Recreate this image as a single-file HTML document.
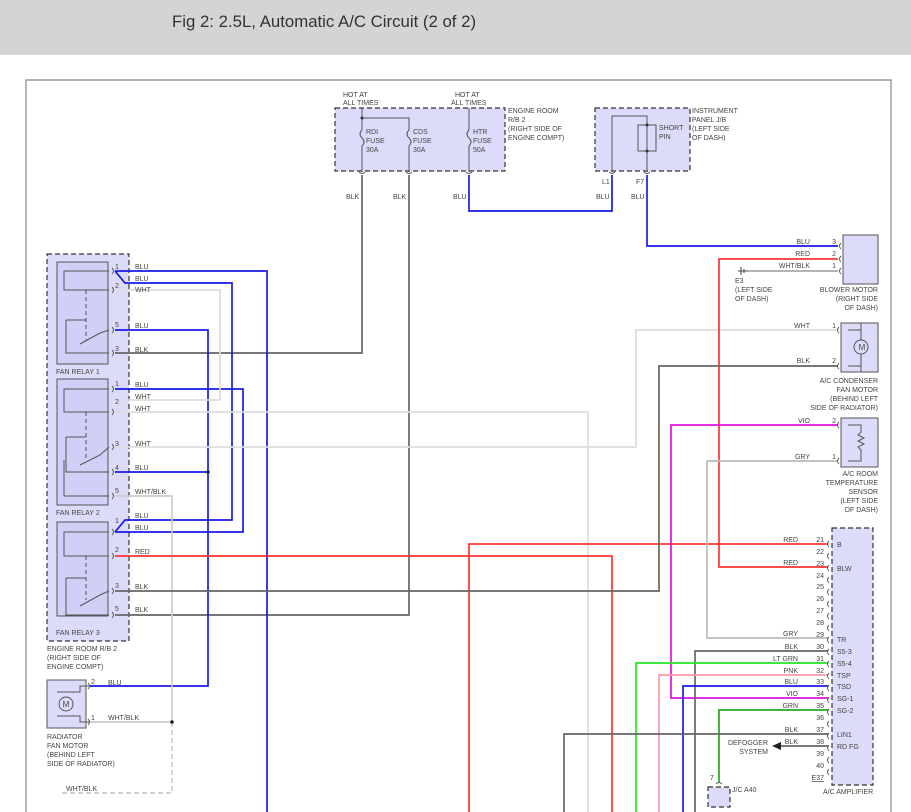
<!DOCTYPE html>
<html><head><meta charset="utf-8"><style>
html,body{margin:0;padding:0;background:#fff;width:911px;height:812px;overflow:hidden}
svg{display:block}
text{font-family:"Liberation Sans",sans-serif;font-size:7px;fill:#444}
</style></head><body>
<svg width="911" height="812" viewBox="0 0 911 812" xmlns="http://www.w3.org/2000/svg">
<rect x="0" y="0" width="911" height="55" fill="#d4d4d4"/>
<text x="172" y="27" style="font-size:16.8px;fill:#333">Fig 2: 2.5L, Automatic A/C Circuit (2 of 2)</text>
<path d="M26 812V80H891V812" fill="none" stroke="#888" stroke-width="1.2"/>

<!-- boxes -->
<g stroke="#333" stroke-dasharray="5,3" stroke-width="1.2" fill="#dcdcfa">
<rect x="335" y="108" width="170" height="63"/>
<rect x="595" y="108" width="95" height="63"/>
<rect x="47" y="254" width="82" height="387"/>
<rect x="832" y="528" width="41" height="257"/>
<rect x="708" y="787" width="22" height="20"/>
</g>
<g stroke="#555" stroke-width="1" fill="#d0d0f6">
<rect x="57" y="262" width="51" height="102"/>
<rect x="57" y="379" width="51" height="126"/>
<rect x="57" y="522" width="51" height="94"/>
<rect x="843" y="235" width="35" height="49" fill="#dcdcfa"/>
<rect x="841" y="323" width="37" height="49" fill="#dcdcfa"/>
<rect x="841" y="418" width="37" height="49" fill="#dcdcfa"/>
<rect x="47" y="680" width="39" height="48" fill="#dcdcfa"/>
</g>

<!-- top box internals -->
<g stroke="#555" fill="none" stroke-width="1">
<path d="M362 108V130M362 118H409V130M469 108V130"/>
<path d="M362 130q-4 4 0 8q4 4 0 8V172M409 130q-4 4 0 8q4 4 0 8V172M469 130q-4 4 0 8q4 4 0 8V172"/>
<path d="M612 172V116H647V172"/><rect x="638" y="125" width="18" height="26"/>
</g>
<g fill="#333"><circle cx="362" cy="118" r="1.5"/><circle cx="647" cy="125" r="1.5"/><circle cx="647" cy="151" r="1.5"/></g>
<text x="343" y="97">HOT AT</text><text x="343" y="105">ALL TIMES</text>
<text x="455" y="97">HOT AT</text><text x="451" y="105">ALL TIMES</text>
<text x="366" y="134">RDI</text><text x="366" y="143">FUSE</text><text x="366" y="152">30A</text>
<text x="413" y="134">CDS</text><text x="413" y="143">FUSE</text><text x="413" y="152">30A</text>
<text x="473" y="134">HTR</text><text x="473" y="143">FUSE</text><text x="473" y="152">50A</text>
<text x="508" y="113">ENGINE ROOM</text><text x="508" y="122">R/B 2</text><text x="508" y="131">(RIGHT SIDE OF</text><text x="508" y="140">ENGINE COMPT)</text>
<text x="659" y="130">SHORT</text><text x="659" y="139">PIN</text>
<text x="692" y="113">INSTRUMENT</text><text x="692" y="122">PANEL J/B</text><text x="692" y="131">(LEFT SIDE</text><text x="692" y="140">OF DASH)</text>
<text x="602" y="184">L1</text><text x="636" y="184">F7</text>
<text x="346" y="199">BLK</text><text x="393" y="199">BLK</text><text x="453" y="199">BLU</text><text x="596" y="199">BLU</text><text x="631" y="199">BLU</text>

<!-- wires -->
<g fill="none" stroke-width="1.7">
<path stroke="#666" d="M362 175V353H115"/>
<path stroke="#666" d="M409 175V615H115"/>
<path stroke="#1a1ae6" d="M469 175V211H612V175"/>
<path stroke="#1a1ae6" d="M647 175V246H838"/>
<path stroke="#1a1ae6" d="M115 271H267V812"/>
<path stroke="#1a1ae6" d="M115 271L125 283H232V520H125L115 532"/>
<path stroke="#1a1ae6" d="M115 389H243V532H115"/>
<path stroke="#1a1ae6" d="M115 330H208V686H90"/>
<path stroke="#1a1ae6" d="M115 472H208"/>
<path stroke="#ddd" d="M115 290H220V400H125L115 412"/>
<path stroke="#ddd" d="M115 412H588V812"/>
<path stroke="#ddd" d="M115 447H636V330H838"/>
<path stroke="#ccc" d="M115 496H172V722H90"/>
<path stroke="#ccc" stroke-dasharray="5,3" d="M172 722V793H60"/>
<path stroke="#ff3333" d="M115 556H612V812"/>
<path stroke="#ff3333" d="M469 812V544H828"/>
<path stroke="#ff3333" d="M838 259H719V567H828"/>
<path stroke="#666" d="M115 591H659V366H838"/>
<path stroke="#aaa" d="M748 271H838"/>
<path stroke="#e010e0" d="M838 425H671V698H828"/>
<path stroke="#bbb" d="M838 461H707V638H828"/>
<path stroke="#666" d="M828 651H695V812"/>
<path stroke="#22e622" d="M828 663H636V812"/>
<path stroke="#ff99aa" d="M828 675H659V812"/>
<path stroke="#1a1ae6" d="M828 686H683V812"/>
<path stroke="#22aa22" d="M828 710H719V782"/>
<path stroke="#666" d="M828 734H564V812"/>
<path stroke="#666" d="M828 746H780"/>
</g>
<path d="M772 746L781 742V750Z" fill="#222"/>
<g fill="#222"><circle cx="208" cy="472" r="1.8"/><circle cx="172" cy="722" r="1.8"/></g>

<!-- relay internals -->
<g stroke="#555" fill="none" stroke-width="1">
<path d="M109 271H64V290H109"/>
<path d="M66 320H86M66 320V353H109M80 344L100 333L109 330"/>
<path d="M86 290V340" stroke-dasharray="4,3"/>
<path d="M109 389H64V412H109"/>
<path d="M66 437H86M66 437V472H109M80 465L100 455L109 447"/>
<path d="M86 412V460" stroke-dasharray="4,3"/>
<path d="M64 496H109M64 460V496"/>
<path d="M109 532H64V556H109"/>
<path d="M66 578H86M66 578V615H109M80 606L100 595L109 591"/>
<path d="M86 556V600" stroke-dasharray="4,3"/>
<path d="M57 692H80V686H90M57 716H80V722H90"/>
<circle cx="66" cy="704" r="7"/>
<path d="M861 323V340M861 354V372M848 330H861M848 366H861"/>
<circle cx="861" cy="347" r="7"/>
<path d="M848 425H861V432l-3 3 6 3-6 3 6 3-6 3 3 3V461H848"/>
</g>
<text x="862" y="350" style="font-size:8px" text-anchor="middle">M</text>
<text x="66" y="707" style="font-size:8px" text-anchor="middle">M</text>

<!-- connector ticks -->
<g stroke="#555" fill="none" stroke-width="0.9">
<path d="M112 268q3 3 0 6M112 287q3 3 0 6M112 327q3 3 0 6M112 350q3 3 0 6M112 386q3 3 0 6M112 409q3 3 0 6M112 444q3 3 0 6M112 469q3 3 0 6M112 493q3 3 0 6M112 529q3 3 0 6M112 553q3 3 0 6M112 588q3 3 0 6M112 612q3 3 0 6M88 683q3 3 0 6M88 719q3 3 0 6"/>
<path d="M841 243q-3 3 0 6M841 256q-3 3 0 6M841 268q-3 3 0 6M839 327q-3 3 0 6M839 363q-3 3 0 6M839 422q-3 3 0 6M839 458q-3 3 0 6"/>
<path d="M829 541q-3 3 0 6m0 6q-3 3 0 6m0 6q-3 3 0 6m0 6q-3 3 0 6m0 6q-3 3 0 6m0 6q-3 3 0 6m0 6q-3 3 0 6m0 6q-3 3 0 6m0 6q-3 3 0 6m0 6q-3 3 0 6m0 6q-3 3 0 6m0 6q-3 3 0 6m0 6q-3 3 0 6m0 6q-3 3 0 6m0 6q-3 3 0 6m0 6q-3 3 0 6m0 6q-3 3 0 6m0 6q-3 3 0 6m0 6q-3 3 0 6m0 6q-3 3 0 6"/>
<path d="M359 172q3 3 6 0M406 172q3 3 6 0M466 172q3 3 6 0M609 172q3 3 6 0M644 172q3 3 6 0M716 784q3 -3 6 0"/>
</g>
<path d="M741 267V275M744 269V273M738 271H748" stroke="#444" stroke-width="1"/>

<!-- relay labels -->
<text x="115" y="269">1</text><text x="135" y="269">BLU</text><text x="135" y="281">BLU</text>
<text x="115" y="288">2</text><text x="135" y="292">WHT</text>
<text x="115" y="327">5</text><text x="135" y="328">BLU</text>
<text x="115" y="351">3</text><text x="135" y="352">BLK</text>
<text x="56" y="374">FAN RELAY 1</text>
<text x="115" y="386">1</text><text x="135" y="387">BLU</text><text x="135" y="399">WHT</text>
<text x="115" y="404">2</text><text x="135" y="411">WHT</text>
<text x="115" y="446">3</text><text x="135" y="446">WHT</text>
<text x="115" y="470">4</text><text x="135" y="470">BLU</text>
<text x="115" y="493">5</text><text x="135" y="494">WHT/BLK</text>
<text x="56" y="515">FAN RELAY 2</text>
<text x="135" y="518">BLU</text>
<text x="115" y="523">1</text><text x="135" y="530">BLU</text>
<text x="115" y="552">2</text><text x="135" y="554">RED</text>
<text x="115" y="588">3</text><text x="135" y="589">BLK</text>
<text x="115" y="611">5</text><text x="135" y="612">BLK</text>
<text x="56" y="635">FAN RELAY 3</text>
<text x="47" y="651">ENGINE ROOM R/B 2</text><text x="47" y="660">(RIGHT SIDE OF</text><text x="47" y="669">ENGINE COMPT)</text>
<text x="91" y="684">2</text><text x="108" y="685">BLU</text>
<text x="91" y="720">1</text><text x="108" y="720">WHT/BLK</text>
<text x="47" y="739">RADIATOR</text><text x="47" y="748">FAN MOTOR</text><text x="47" y="757">(BEHIND LEFT</text><text x="47" y="766">SIDE OF RADIATOR)</text>
<text x="66" y="791">WHT/BLK</text>

<!-- right devices -->
<g text-anchor="end">
<text x="810" y="244">BLU</text><text x="810" y="256">RED</text><text x="810" y="268">WHT/BLK</text>
<text x="836" y="244">3</text><text x="836" y="256">2</text><text x="836" y="268">1</text>
<text x="878" y="292">BLOWER MOTOR</text><text x="878" y="301">(RIGHT SIDE</text><text x="878" y="310">OF DASH)</text>
<text x="810" y="328">WHT</text><text x="810" y="363">BLK</text>
<text x="836" y="328">1</text><text x="836" y="363">2</text>
<text x="878" y="383">A/C CONDENSER</text><text x="878" y="392">FAN MOTOR</text><text x="878" y="401">(BEHIND LEFT</text><text x="878" y="410">SIDE OF RADIATOR)</text>
<text x="810" y="423">VIO</text><text x="810" y="459">GRY</text>
<text x="836" y="423">2</text><text x="836" y="459">1</text>
<text x="878" y="476">A/C ROOM</text><text x="878" y="485">TEMPERATURE</text><text x="878" y="494">SENSOR</text><text x="878" y="503">(LEFT SIDE</text><text x="878" y="512">OF DASH)</text>
<text x="798" y="542">RED</text><text x="798" y="565">RED</text><text x="798" y="636">GRY</text>
<text x="798" y="649">BLK</text><text x="798" y="661">LT GRN</text><text x="798" y="673">PNK</text><text x="798" y="684">BLU</text>
<text x="798" y="696">VIO</text><text x="798" y="708">GRN</text><text x="798" y="732">BLK</text><text x="798" y="744">BLK</text>
<text x="824" y="542">21</text><text x="824" y="554">22</text><text x="824" y="566">23</text><text x="824" y="578">24</text>
<text x="824" y="589">25</text><text x="824" y="601">26</text><text x="824" y="613">27</text><text x="824" y="625">28</text>
<text x="824" y="637">29</text><text x="824" y="649">30</text><text x="824" y="661">31</text><text x="824" y="673">32</text>
<text x="824" y="684">33</text><text x="824" y="696">34</text><text x="824" y="708">35</text><text x="824" y="720">36</text>
<text x="824" y="732">37</text><text x="824" y="744">38</text><text x="824" y="756">39</text><text x="824" y="768">40</text>
<text x="824" y="780" text-decoration="underline">E37</text>
<text x="768" y="745">DEFOGGER</text><text x="768" y="754">SYSTEM</text>
</g>
<text x="735" y="283">E3</text><text x="735" y="292">(LEFT SIDE</text><text x="735" y="301">OF DASH)</text>
<text x="837" y="547">B</text><text x="837" y="571">BLW</text><text x="837" y="642">TR</text><text x="837" y="654">S5-3</text>
<text x="837" y="666">S5-4</text><text x="837" y="678">TSP</text><text x="837" y="689">TSD</text><text x="837" y="701">SG-1</text>
<text x="837" y="713">SG-2</text><text x="837" y="737">LIN1</text><text x="837" y="749">RD FG</text>
<text x="823" y="794">A/C AMPLIFIER</text>
<text x="710" y="780">7</text><text x="732" y="792">J/C A40</text>
</svg>
</body></html>
